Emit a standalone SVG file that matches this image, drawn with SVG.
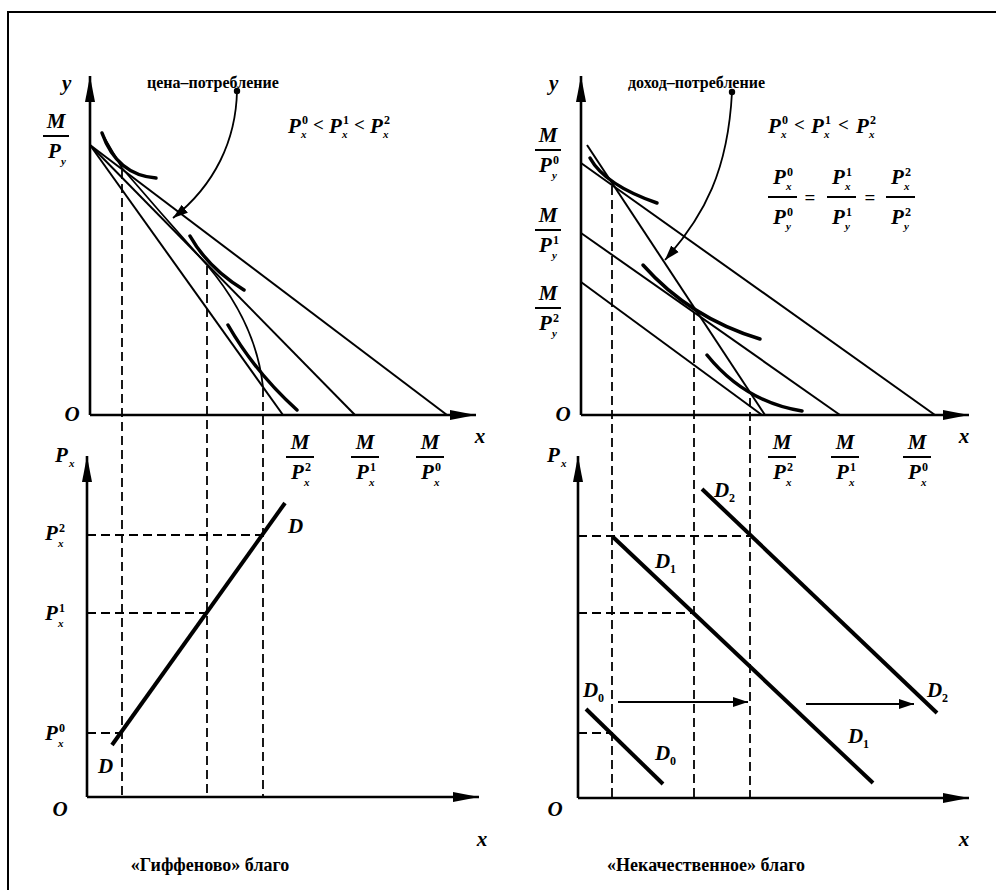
<svg xmlns="http://www.w3.org/2000/svg" width="996" height="890" viewBox="0 0 996 890">
<style>
.ax{stroke:#000;stroke-width:2.6;fill:none}
.bl{stroke:#000;stroke-width:2;fill:none}
.ic{stroke:#000;stroke-width:3.5;fill:none;stroke-linecap:round}
.thin{stroke:#000;stroke-width:1.8;fill:none}
.ds{stroke:#000;stroke-width:1.8;fill:none;stroke-dasharray:9 5}
.dl{stroke:#000;stroke-width:4;fill:none}
.bar{stroke:#000;stroke-width:2}
.l{font-family:"Liberation Serif","Times New Roman",serif;font-weight:bold;font-style:italic;font-size:21px;fill:#000}
.sp{font-family:"Liberation Serif","Times New Roman",serif;font-weight:bold;font-size:12px;fill:#000}
.sb{font-family:"Liberation Serif","Times New Roman",serif;font-weight:bold;font-style:italic;font-size:11px;fill:#000}
.op{font-family:"Liberation Serif","Times New Roman",serif;font-weight:bold;font-size:19px;fill:#000}
.t{font-family:"Liberation Serif","Times New Roman",serif;font-weight:bold;font-size:16px;fill:#000}
.c{font-family:"Liberation Serif","Times New Roman",serif;font-weight:bold;font-size:18px;fill:#000}
.m{text-anchor:middle}
</style>
<defs>
<marker id="ah" markerUnits="userSpaceOnUse" markerWidth="28" markerHeight="12" refX="26" refY="6" orient="auto"><path d="M0,1 L26,6 L0,11 Z" fill="#000"/></marker>
<marker id="sa" markerUnits="userSpaceOnUse" markerWidth="16" markerHeight="12" refX="15" refY="6" orient="auto"><path d="M0,1 L15,6 L0,11 Z" fill="#000"/></marker>
</defs>
<rect width="996" height="890" fill="#fff"/>
<path d="M8,890 V12 H996" class="bl"/>

<g id="connectors">
<!-- top-left chart -->
<line x1="90" y1="415" x2="90" y2="76" class="ax" marker-end="url(#ah)"/>
<line x1="90" y1="415" x2="476" y2="415" class="ax" marker-end="url(#ah)"/>
<line x1="90" y1="145" x2="283" y2="415" class="bl"/>
<line x1="90" y1="145" x2="355" y2="415" class="bl"/>
<line x1="90" y1="145" x2="447" y2="415" class="bl"/>
<path d="M102,133 Q117,175 156,178" class="ic"/>
<path d="M190,236 Q208,268 244,290" class="ic"/>
<path d="M228,325 Q255,372 297,410" class="ic"/>
<path d="M104,137 L122,168 Q165,218 207,265 C235,298 258,340 263,387" class="thin"/>
<path d="M237,91 C236,140 215,185 173,218" class="thin" marker-end="url(#sa)"/>
<circle cx="237" cy="91" r="3.2" fill="#000"/>
<line x1="122" y1="170" x2="122" y2="797" class="ds"/>
<line x1="207" y1="266" x2="207" y2="797" class="ds"/>
<line x1="263" y1="388" x2="263" y2="797" class="ds"/>
<!-- top-right chart -->
<line x1="581" y1="415" x2="581" y2="76" class="ax" marker-end="url(#ah)"/>
<line x1="581" y1="415" x2="969" y2="415" class="ax" marker-end="url(#ah)"/>
<line x1="581" y1="163" x2="935" y2="415" class="bl"/>
<line x1="581" y1="233" x2="840" y2="415" class="bl"/>
<line x1="581" y1="282" x2="762" y2="415" class="bl"/>
<line x1="587" y1="145" x2="765" y2="415" class="bl"/>
<path d="M590,158 Q605,185 657,203" class="ic"/>
<path d="M643,265 Q690,318 760,339" class="ic"/>
<path d="M707,355 Q745,402 802,411" class="ic"/>
<path d="M732,92 C728,170 705,215 665,260" class="thin" marker-end="url(#sa)"/>
<circle cx="732" cy="92" r="3.2" fill="#000"/>
<line x1="612" y1="186" x2="612" y2="798" class="ds"/>
<line x1="694" y1="312" x2="694" y2="798" class="ds"/>
<line x1="750" y1="398" x2="750" y2="798" class="ds"/>
<!-- bottom-left chart -->
<line x1="87" y1="797" x2="87" y2="456" class="ax" marker-end="url(#ah)"/>
<line x1="87" y1="797" x2="479" y2="797" class="ax" marker-end="url(#ah)"/>
<line x1="87" y1="535" x2="263" y2="535" class="ds"/>
<line x1="87" y1="613" x2="207" y2="613" class="ds"/>
<line x1="87" y1="733" x2="122" y2="733" class="ds"/>
<line x1="112" y1="745" x2="285" y2="503" class="dl"/>
<!-- bottom-right chart -->
<line x1="578" y1="798" x2="578" y2="456" class="ax" marker-end="url(#ah)"/>
<line x1="578" y1="798" x2="969" y2="798" class="ax" marker-end="url(#ah)"/>
<line x1="578" y1="536" x2="750" y2="536" class="ds"/>
<line x1="578" y1="613" x2="694" y2="613" class="ds"/>
<line x1="578" y1="733" x2="612" y2="733" class="ds"/>
<line x1="613" y1="537" x2="873" y2="783" class="dl"/>
<line x1="702" y1="489" x2="937" y2="713" class="dl"/>
<line x1="586" y1="709" x2="663" y2="784" class="dl"/>
<line x1="618" y1="702" x2="748" y2="702" class="bl" marker-end="url(#sa)"/>
<line x1="806" y1="704" x2="914" y2="704" class="bl" marker-end="url(#sa)"/>
</g>

<g id="giffen-top-labels">
<text x="62" y="90" class="l">y</text>
<text x="72" y="421" class="l m">O</text>
<text x="147" y="88" class="t">цена–потребление</text>
<text x="56" y="128" class="l m">M</text><line x1="43" y1="136" x2="69" y2="136" class="bar"/>
<text x="48" y="158" class="l">P</text><text x="61" y="165" class="sb">y</text>
<text x="288" y="133" class="l">P</text><text x="302" y="124" class="sp">0</text><text x="301" y="138" class="sb">x</text>
<text x="313" y="131" class="op">&lt;</text>
<text x="329" y="133" class="l">P</text><text x="343" y="124" class="sp">1</text><text x="342" y="138" class="sb">x</text>
<text x="354" y="131" class="op">&lt;</text>
<text x="370" y="133" class="l">P</text><text x="384" y="124" class="sp">2</text><text x="383" y="138" class="sb">x</text>
<text x="300" y="449" class="l m">M</text><line x1="286" y1="457" x2="314" y2="457" class="bar"/>
<text x="291" y="479" class="l">P</text><text x="305" y="471" class="sp">2</text><text x="304" y="486" class="sb">x</text>
<text x="365" y="449" class="l m">M</text><line x1="351" y1="457" x2="379" y2="457" class="bar"/>
<text x="356" y="479" class="l">P</text><text x="370" y="471" class="sp">1</text><text x="369" y="486" class="sb">x</text>
<text x="430" y="449" class="l m">M</text><line x1="416" y1="457" x2="444" y2="457" class="bar"/>
<text x="421" y="479" class="l">P</text><text x="435" y="471" class="sp">0</text><text x="434" y="486" class="sb">x</text>
<text x="480" y="443" class="l m">x</text>
</g>

<g id="inferior-top-labels">
<text x="549" y="90" class="l">y</text>
<text x="563" y="421" class="l m">O</text>
<text x="628" y="88" class="t">доход–потребление</text>
<text x="548" y="142" class="l m">M</text><line x1="535" y1="150" x2="561" y2="150" class="bar"/>
<text x="539" y="172" class="l">P</text><text x="553" y="164" class="sp">0</text><text x="552" y="179" class="sb">y</text>
<text x="548" y="222" class="l m">M</text><line x1="535" y1="230" x2="561" y2="230" class="bar"/>
<text x="539" y="252" class="l">P</text><text x="553" y="244" class="sp">1</text><text x="552" y="259" class="sb">y</text>
<text x="548" y="300" class="l m">M</text><line x1="535" y1="308" x2="561" y2="308" class="bar"/>
<text x="539" y="330" class="l">P</text><text x="553" y="322" class="sp">2</text><text x="552" y="337" class="sb">y</text>
<text x="768" y="133" class="l">P</text><text x="782" y="124" class="sp">0</text><text x="781" y="138" class="sb">x</text>
<text x="794" y="131" class="op">&lt;</text>
<text x="811" y="133" class="l">P</text><text x="825" y="124" class="sp">1</text><text x="824" y="138" class="sb">x</text>
<text x="838" y="131" class="op">&lt;</text>
<text x="856" y="133" class="l">P</text><text x="870" y="124" class="sp">2</text><text x="869" y="138" class="sb">x</text>
<text x="773" y="184" class="l">P</text><text x="787" y="176" class="sp">0</text><text x="786" y="190" class="sb">x</text>
<line x1="768" y1="197" x2="797" y2="197" class="bar"/>
<text x="773" y="224" class="l">P</text><text x="787" y="216" class="sp">0</text><text x="786" y="230" class="sb">y</text>
<text x="810" y="204" class="op m">=</text>
<text x="832" y="184" class="l">P</text><text x="846" y="176" class="sp">1</text><text x="845" y="190" class="sb">x</text>
<line x1="827" y1="197" x2="856" y2="197" class="bar"/>
<text x="832" y="224" class="l">P</text><text x="846" y="216" class="sp">1</text><text x="845" y="230" class="sb">y</text>
<text x="870" y="204" class="op m">=</text>
<text x="891" y="184" class="l">P</text><text x="905" y="176" class="sp">2</text><text x="904" y="190" class="sb">x</text>
<line x1="886" y1="197" x2="915" y2="197" class="bar"/>
<text x="891" y="224" class="l">P</text><text x="905" y="216" class="sp">2</text><text x="904" y="230" class="sb">y</text>
<text x="782" y="449" class="l m">M</text><line x1="768" y1="457" x2="796" y2="457" class="bar"/>
<text x="773" y="479" class="l">P</text><text x="787" y="471" class="sp">2</text><text x="786" y="486" class="sb">x</text>
<text x="845" y="449" class="l m">M</text><line x1="831" y1="457" x2="859" y2="457" class="bar"/>
<text x="836" y="479" class="l">P</text><text x="850" y="471" class="sp">1</text><text x="849" y="486" class="sb">x</text>
<text x="917" y="449" class="l m">M</text><line x1="903" y1="457" x2="931" y2="457" class="bar"/>
<text x="908" y="479" class="l">P</text><text x="922" y="471" class="sp">0</text><text x="921" y="486" class="sb">x</text>
<text x="964" y="443" class="l m">x</text>
</g>

<g id="giffen-demand-labels">
<text x="55" y="462" class="l">P</text><text x="69" y="467" class="sb">x</text>
<text x="45" y="540" class="l">P</text><text x="59" y="532" class="sp">2</text><text x="58" y="547" class="sb">x</text>
<text x="45" y="620" class="l">P</text><text x="59" y="612" class="sp">1</text><text x="58" y="627" class="sb">x</text>
<text x="45" y="740" class="l">P</text><text x="59" y="732" class="sp">0</text><text x="58" y="747" class="sb">x</text>
<text x="288" y="533" class="l">D</text>
<text x="98" y="773" class="l">D</text>
<text x="60" y="816" class="l m">O</text>
<text x="482" y="846" class="l m">x</text>
<text x="210" y="871" class="c m">«Гиффеново» благо</text>
</g>

<g id="inferior-demand-labels">
<text x="547" y="462" class="l">P</text><text x="561" y="467" class="sb">x</text>
<text x="714" y="497" class="l">D</text><text x="729" y="502" class="sp">2</text>
<text x="655" y="568" class="l">D</text><text x="670" y="573" class="sp">1</text>
<text x="583" y="697" class="l">D</text><text x="598" y="702" class="sp">0</text>
<text x="655" y="760" class="l">D</text><text x="670" y="765" class="sp">0</text>
<text x="848" y="743" class="l">D</text><text x="863" y="748" class="sp">1</text>
<text x="927" y="697" class="l">D</text><text x="942" y="702" class="sp">2</text>
<text x="555" y="816" class="l m">O</text>
<text x="964" y="846" class="l m">x</text>
<text x="706" y="871" class="c m">«Некачественное» благо</text>
</g>
</svg>
